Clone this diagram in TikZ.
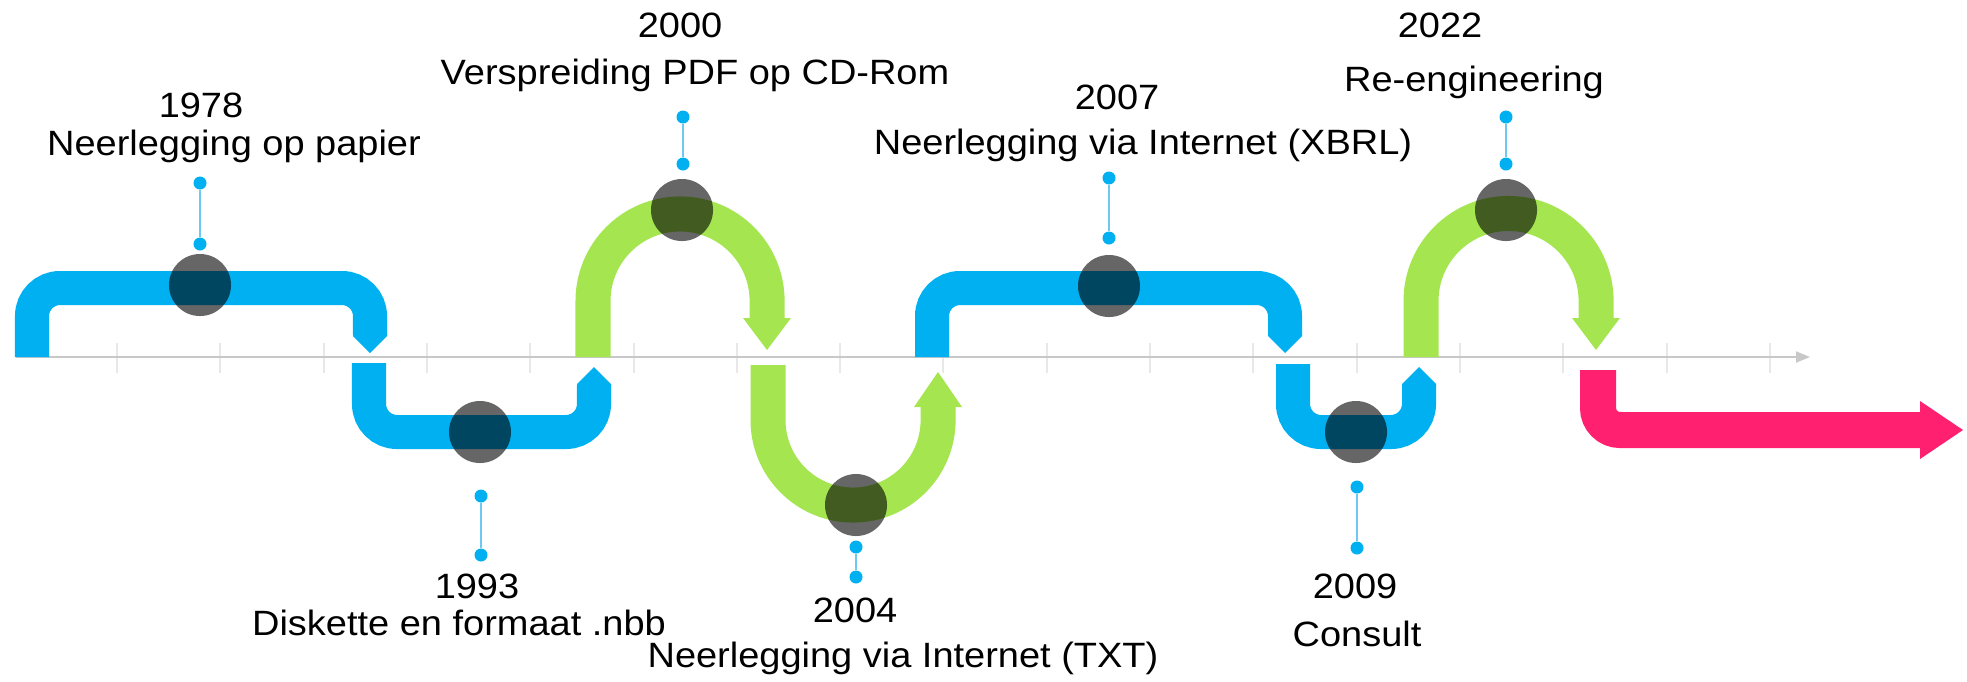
\documentclass[tikz,border=0pt]{standalone}
\usepackage{fontspec}
\setmainfont{Liberation Sans}[FakeStretch=1.08]
\usetikzlibrary{arrows.meta}
\definecolor{tlblue}{RGB}{0,176,240}
\definecolor{tlgreen}{RGB}{164,229,80}
\definecolor{tlpink}{RGB}{255,32,112}
\definecolor{tlcallout}{RGB}{110,200,240}
\definecolor{tlaxis}{RGB}{200,200,200}
\definecolor{tltick}{RGB}{232,232,232}

\begin{document}
\begin{tikzpicture}[x=0.01cm,y=-0.01cm]
			\tikzset{
				bluepipe/.style={draw=tlblue, line width=0.34cm, rounded corners=0.28cm},
				greenpipe/.style={draw=tlgreen, line width=0.35cm},
				pinkpipe/.style={draw=tlpink, line width=0.36cm, rounded corners=0.22cm},
				marker/.style={circle, fill=black, fill opacity=0.6, minimum size=0.62cm, inner sep=0pt},
				pin/.style={circle, fill=tlblue, minimum size=0.13cm, inner sep=0pt},
				callout/.style={draw=tlcallout, line width=0.02cm},
				yearlabel/.style={anchor=base, inner sep=0pt, font=\fontsize{10}{12}\selectfont}
			}
			\useasboundingbox (0,0) rectangle (1967,681);

			% time axis
			\draw[tltick, line width=0.015cm] (117,343) -- (117,373) (220,343) -- (220,373) (324,343) -- (324,373)
				(427,343) -- (427,373) (530,343) -- (530,373) (634,343) -- (634,373) (737,343) -- (737,373)
				(840,343) -- (840,373) (943,343) -- (943,373) (1047,343) -- (1047,373) (1150,343) -- (1150,373)
				(1253,343) -- (1253,373) (1357,343) -- (1357,373) (1460,343) -- (1460,373) (1563,343) -- (1563,373)
				(1667,343) -- (1667,373) (1770,343) -- (1770,373);
			\draw[tlaxis, line width=0.02cm, -{Triangle[length=0.14cm,width=0.11cm]}] (16,357) -- (1810,357);

			% pipes
			\draw[bluepipe] (32,357) -- (32,288) -- (370,288) -- (370,335);
			\fill[tlblue] (353,334) -- (353,336) -- (370,353) -- (387,336) -- (387,334) -- cycle;

			\draw[bluepipe] (369,363) -- (369,432) -- (594,432) -- (594,385);
			\fill[tlblue] (577,386) -- (577,384) -- (594,367) -- (611,384) -- (611,386) -- cycle;

			\draw[greenpipe] (593,357) -- (593,301) arc[start angle=180, end angle=0, radius=0.87cm] -- (767,319);
			\fill[tlgreen] (743,318) -- (791,318) -- (767,350) -- cycle;

			\draw[greenpipe] (768,365) -- (768,420) arc[start angle=180, end angle=360, radius=0.85cm] -- (938,406);
			\fill[tlgreen] (914,407) -- (962,407) -- (938,372) -- cycle;

			\draw[bluepipe] (932,357) -- (932,288) -- (1285,288) -- (1285,335);
			\fill[tlblue] (1268,334) -- (1268,336) -- (1285,353) -- (1302,336) -- (1302,334) -- cycle;

			\draw[bluepipe] (1293,364) -- (1293,432) -- (1419,432) -- (1419,385);
			\fill[tlblue] (1402,386) -- (1402,384) -- (1419,367) -- (1436,384) -- (1436,386) -- cycle;

			\draw[greenpipe] (1421,357) -- (1421,301) arc[start angle=180, end angle=0, radius=0.875cm] -- (1596,319);
			\fill[tlgreen] (1572,318) -- (1620,318) -- (1596,350) -- cycle;

			\draw[pinkpipe] (1598,370) -- (1598,430) -- (1921,430);
			\fill[tlpink] (1920,401) -- (1963,430) -- (1920,459) -- cycle;

			% markers
			\draw (200,285) node [marker] (M1978) {};
			\draw (480,432) node [marker] (M1993) {};
			\draw (682,210) node [marker] (M2000) {};
			\draw (856,505) node [marker] (M2004) {};
			\draw (1109,286) node [marker] (M2007) {};
			\draw (1356,432) node [marker] (M2009) {};
			\draw (1506,210) node [marker] (M2022) {};

			% callouts
			\draw (200,183) node [pin] (P1978a) {};
			\draw (200,244) node [pin] (P1978b) {};
			\draw[callout] (P1978a) -- (P1978b);
			\draw (481,496) node [pin] (P1993a) {};
			\draw (481,555) node [pin] (P1993b) {};
			\draw[callout] (P1993a) -- (P1993b);
			\draw (683,117) node [pin] (P2000a) {};
			\draw (683,164) node [pin] (P2000b) {};
			\draw[callout] (P2000a) -- (P2000b);
			\draw (856,547) node [pin] (P2004a) {};
			\draw (856,577) node [pin] (P2004b) {};
			\draw[callout] (P2004a) -- (P2004b);
			\draw (1109,178) node [pin] (P2007a) {};
			\draw (1109,238) node [pin] (P2007b) {};
			\draw[callout] (P2007a) -- (P2007b);
			\draw (1357,487) node [pin] (P2009a) {};
			\draw (1357,548) node [pin] (P2009b) {};
			\draw[callout] (P2009a) -- (P2009b);
			\draw (1506,117) node [pin] (P2022a) {};
			\draw (1506,164) node [pin] (P2022b) {};
			\draw[callout] (P2022a) -- (P2022b);

			% labels
			\draw (201,117) node [yearlabel] (Y1978) {1978};
			\draw (234,155) node [yearlabel] (T1978) {Neerlegging op papier};
			\draw (477,598) node [yearlabel] (Y1993) {1993};
			\draw (459,635) node [yearlabel] (T1993) {Diskette en formaat .nbb};
			\draw (680,37) node [yearlabel] (Y2000) {2000};
			\draw (695,84) node [yearlabel] (T2000) {Verspreiding PDF op CD-Rom};
			\draw (855,622) node [yearlabel] (Y2004) {2004};
			\draw (903,667) node [yearlabel] (T2004) {Neerlegging via Internet (TXT)};
			\draw (1117,109) node [yearlabel] (Y2007) {2007};
			\draw (1143,154) node [yearlabel] (T2007) {Neerlegging via Internet (XBRL)};
			\draw (1355,598) node [yearlabel] (Y2009) {2009};
			\draw (1357,646) node [yearlabel] (T2009) {Consult};
			\draw (1440,37) node [yearlabel] (Y2022) {2022};
			\draw (1474,91) node [yearlabel] (T2022) {Re-engineering};
		\end{tikzpicture}
\end{document}
